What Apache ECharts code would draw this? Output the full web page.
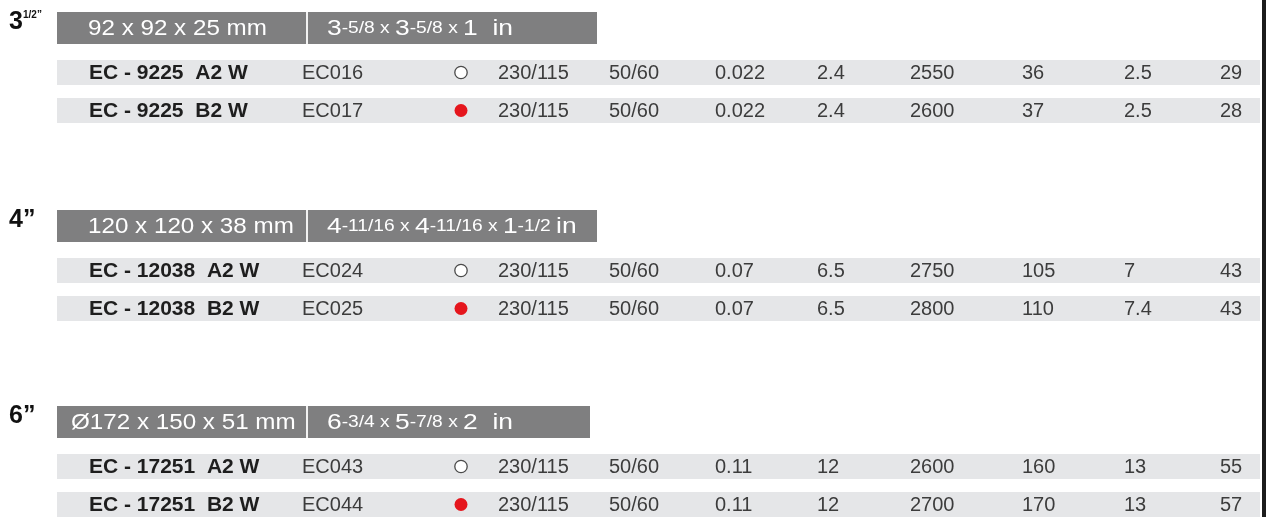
<!DOCTYPE html>
<html>
<head>
<meta charset="utf-8">
<script src="https://cdn.jsdelivr.net/npm/echarts@6/dist/echarts.min.js"></script>
<style>
  html, body { margin: 0; padding: 0; background: #fff; }
  #chart { width: 1267px; height: 517px; }
</style>
</head>
<body>
<div id="chart"></div>
<script>
  // 风扇尺寸分组
  const sizeMain = ['3', '4”', '6”'];
  const sizeSup = ['1/2”', '', ''];
  const dimMm = ['92 x 92 x 25 mm', '120 x 120 x 38 mm', 'Ø172 x 150 x 51 mm'];
  const dimIn = [
    '{b|3}{s|-5/8 x }{b|3}{s|-5/8 x }{b|1  in}',
    '{b|4}{s|-11/16 x }{b|4}{s|-11/16 x }{b|1}{s|-1/2 }{b|in}',
    '{b|6}{s|-3/4 x }{b|5}{s|-7/8 x }{b|2  in}'
  ];

  // 型号数据, 每组两行
  const models = ['EC - 9225  A2 W', 'EC - 9225  B2 W', 'EC - 12038  A2 W', 'EC - 12038  B2 W', 'EC - 17251  A2 W', 'EC - 17251  B2 W'];
  const codes = ['EC016', 'EC017', 'EC024', 'EC025', 'EC043', 'EC044'];
  const bearing = ['sleeve', 'ball', 'sleeve', 'ball', 'sleeve', 'ball'];
  const volts = ['230/115', '230/115', '230/115', '230/115', '230/115', '230/115'];
  const freq = ['50/60', '50/60', '50/60', '50/60', '50/60', '50/60'];
  const amps = ['0.022', '0.022', '0.07', '0.07', '0.11', '0.11'];
  const watts = ['2.4', '2.4', '6.5', '6.5', '12', '12'];
  const rpm = ['2550', '2600', '2750', '2800', '2600', '2700'];
  const airflow = ['36', '37', '105', '110', '160', '170'];
  const pressure = ['2.5', '2.5', '7', '7.4', '13', '13'];
  const noise = ['29', '28', '43', '43', '55', '57'];

  const columns = [models, codes, bearing, volts, freq, amps, watts, rpm, airflow, pressure, noise];

  // 版面位置
  const colX = [89, 302, 461, 498, 609, 715, 817, 910, 1022, 1124, 1220];
  const sectionOffset = [0, 198, 394];
  const headerEnd = [597, 597, 590];
  const rowCenter = [72.5, 110.5];
  const FONT = '"Liberation Sans", Arial, Helvetica, sans-serif';

  const rowY = [];
  sectionOffset.forEach(function (off) {
    rowCenter.forEach(function (c) { rowY.push(off + c); });
  });

  const bandData = rowY.map(function (y) { return [57, y, 1260]; });
  const headerData = sectionOffset.map(function (off, i) { return [57, off + 28, headerEnd[i], i]; });

  const cellData = [];
  rowY.forEach(function (y, r) {
    colX.forEach(function (x, c) { cellData.push([x, y, r, c]); });
  });

  let myChart = echarts.init(document.getElementById('chart'));
  myChart.setOption({
    animation: false,
    grid: { left: 0, right: 0, top: 0, bottom: 0 },
    xAxis: { type: 'value', min: 0, max: 1267, show: false },
    yAxis: { type: 'value', min: 0, max: 517, inverse: true, show: false },
    graphic: [{
      type: 'rect',
      shape: { x: 1262, y: 0, width: 4, height: 517 },
      style: { fill: '#1c1c1c' }
    }],
    series: [
      {
        // 灰色行底
        type: 'custom',
        data: bandData,
        renderItem: function (params, api) {
          const p0 = api.coord([api.value(0), api.value(1) - 12.5]);
          const p1 = api.coord([api.value(2), api.value(1) + 12.5]);
          return {
            type: 'rect',
            shape: { x: p0[0], y: p0[1], width: p1[0] - p0[0], height: p1[1] - p0[1] },
            style: { fill: '#e5e6e8' }
          };
        }
      },
      {
        // 尺寸标题栏
        type: 'custom',
        data: headerData,
        renderItem: function (params, api) {
          const i = api.value(3);
          const p0 = api.coord([api.value(0), api.value(1) - 16]);
          const p1 = api.coord([api.value(2), api.value(1) + 16]);
          const mid = api.coord([306, api.value(1)]);
          const top = api.coord([0, api.value(1) - 6]);
          return {
            type: 'group',
            children: [
              {
                type: 'rect',
                shape: { x: p0[0], y: p0[1], width: p1[0] - p0[0], height: p1[1] - p0[1] },
                style: { fill: '#7f7f80' }
              },
              {
                type: 'rect',
                shape: { x: mid[0], y: p0[1], width: 2, height: p1[1] - p0[1] },
                style: { fill: '#f2f2f2' }
              },
              {
                type: 'text',
                x: i === 2 ? 71 : 88, y: mid[1] + 1,
                scaleX: 1.1,
                style: {
                  text: dimMm[i], fill: '#ffffff', fontSize: 22, fontFamily: FONT,
                  align: 'left', verticalAlign: 'middle'
                }
              },
              {
                type: 'text',
                x: 327, y: mid[1] + 1,
                scaleX: 1.2,
                style: {
                  text: dimIn[i], fill: '#ffffff', fontFamily: FONT,
                  align: 'left', verticalAlign: 'middle',
                  rich: {
                    b: { fontSize: 22, fill: '#ffffff', fontFamily: FONT },
                    s: { fontSize: 16, fill: '#ffffff', fontFamily: FONT }
                  }
                }
              },
              {
                type: 'text',
                x: 9, y: top[1],
                style: {
                  text: sizeMain[i], fill: '#111111', fontSize: 25, fontWeight: 'bold',
                  fontFamily: FONT, align: 'left', verticalAlign: 'middle'
                }
              },
              {
                type: 'text',
                x: 23, y: top[1] - 7,
                style: {
                  text: sizeSup[i], fill: '#111111', fontSize: 10, fontWeight: 'bold',
                  fontFamily: FONT, align: 'left', verticalAlign: 'middle'
                }
              }
            ]
          };
        }
      },
      {
        // 表格单元
        type: 'custom',
        data: cellData,
        renderItem: function (params, api) {
          const r = api.value(2);
          const c = api.value(3);
          const p = api.coord([api.value(0), api.value(1)]);
          const v = columns[c][r];
          if (c === 2) {
            return {
              type: 'circle',
              shape: { cx: p[0], cy: p[1], r: v === 'ball' ? 6.5 : 6.2 },
              style: v === 'ball'
                ? { fill: '#e5161d' }
                : { fill: '#ffffff', stroke: '#4a4a4a', lineWidth: 1.3 }
            };
          }
          return {
            type: 'text',
            x: p[0], y: p[1] + 1,
            style: {
              text: v,
              fill: c === 0 ? '#1e1e1e' : '#3c3c3c',
              fontSize: c === 0 ? 21 : 20,
              fontWeight: c === 0 ? 'bold' : 'normal',
              fontFamily: FONT,
              align: 'left', verticalAlign: 'middle'
            }
          };
        }
      }
    ]
  });
</script>
</body>
</html>
